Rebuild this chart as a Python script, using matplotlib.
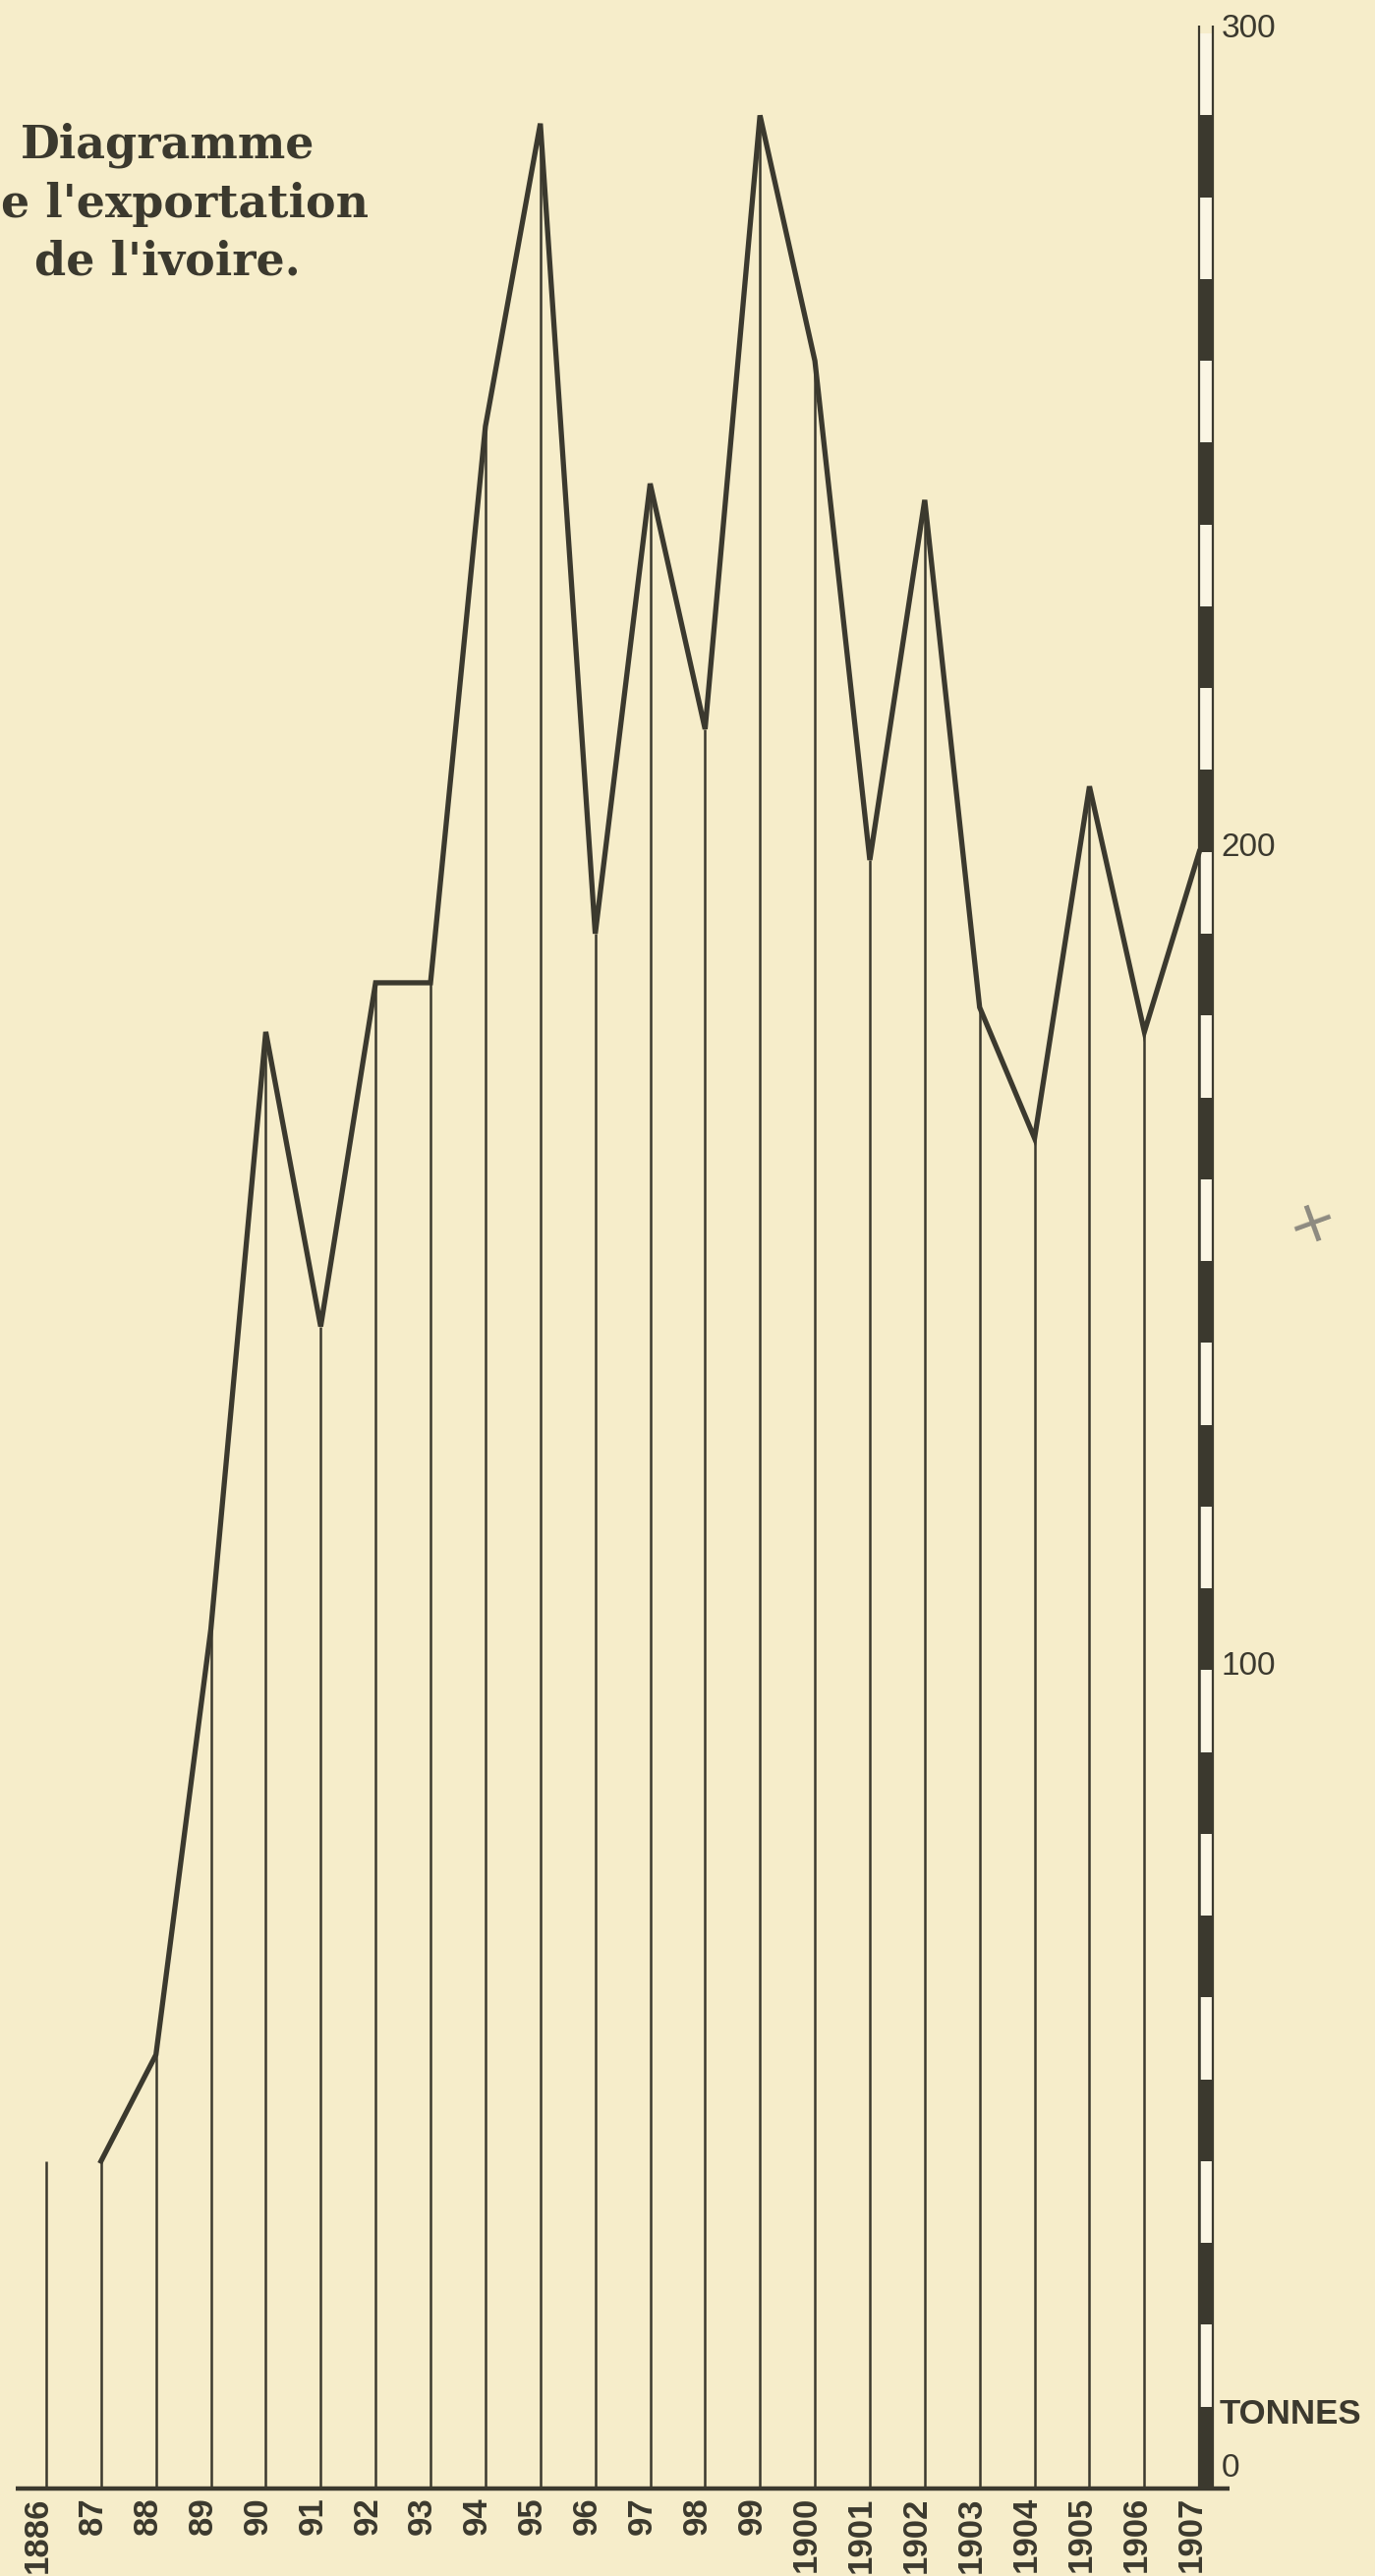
"""
Diagramme de l'exportation de l'ivoire (1886-1907), redrawn from a scanned plate.
"""

import matplotlib
matplotlib.use("Agg")
import matplotlib.pyplot as plt

# data (tonnes)
years = ["1886", "87", "88", "89", "90", "91", "92", "93", "94", "95", "96",
         "97", "98", "99", "1900", "1901", "1902", "1903", "1904", "1905", "1906", "1907"]
tonnes = [40, 40, 53, 105, 178, 142, 184, 184, 252, 289, 190,
          245, 215, 290, 260, 199, 243, 181, 165, 208, 178, 200]
y_ticks = [0, 100, 200, 300]
title_lines = ["Diagramme", "e l'exportation", "de l'ivoire."]

PAPER = "#f6edca"
INK = "#3b392e"

fig = plt.figure(figsize=(13.99, 26.21), dpi=100)
fig.patch.set_facecolor(PAPER)
ax = fig.add_axes([0, 0, 1, 1])
ax.set_facecolor(PAPER)
ax.set_xlim(-0.84, 24.2)
ax.set_ylim(-10.7, 304.1)
ax.axis("off")

x = list(range(len(years)))

# vertical year lines, baseline up to the value
ax.vlines(x, 0, tonnes, color=INK, lw=1.8)

# the curve starts at 1887 (1886 stands alone)
ax.plot(x[1:], tonnes[1:], color=INK, lw=3.8, solid_joinstyle="miter")

# baseline
ax.hlines(0, -0.55, len(years) - 1 + 0.55, color=INK, lw=3.2)

# scale bar on the right: alternating 10-tonne blocks
bar_x = len(years) - 1
bar_w = 0.25
bottoms = list(range(0, 300, 10))
fills = [INK if (b // 10) % 2 == 0 else "#fbf6e4" for b in bottoms]
ax.bar([bar_x] * len(bottoms), [10] * len(bottoms), width=bar_w, bottom=bottoms,
       align="edge", color=fills, edgecolor="none")
ax.vlines([bar_x, bar_x + bar_w], 0, 301, color=INK, lw=1.6)

# y labels
for v in y_ticks:
    ax.text(bar_x + 0.4, v + (0.5 if v else 0.6), str(v),
            ha="left", va="bottom" if v == 0 else "center",
            fontsize=24, color=INK, family="Liberation Sans")
ax.text(bar_x + 0.36, 9, "TONNES", ha="left", va="center", fontsize=25,
        color=INK, fontweight="bold", family="Liberation Sans")

# year labels, rotated
for xi, lab in zip(x, years):
    ax.text(xi - 0.15, -1.0, lab, rotation=90, ha="center", va="top",
            fontsize=25, color=INK, fontweight="bold", family="Liberation Sans")

# title block, top left
fig.text(0.122, 1 - 148 / 2621, title_lines[0], ha="center", va="center",
         fontsize=33, fontweight="bold", family="DejaVu Serif", color=INK)
fig.text(0.001, 1 - 208 / 2621, title_lines[1], ha="left", va="center",
         fontsize=33, fontweight="bold", family="DejaVu Serif", color=INK)
fig.text(0.122, 1 - 267 / 2621, title_lines[2], ha="center", va="center",
         fontsize=33, fontweight="bold", family="DejaVu Serif", color=INK)

# pencil mark in the margin
fig.text(0.955, 1 - 1245 / 2621, "+", ha="center", va="center", fontsize=44,
         color="#8d8a80", rotation=20, family="DejaVu Sans")

fig.savefig("out.png", dpi=100, facecolor=PAPER)
